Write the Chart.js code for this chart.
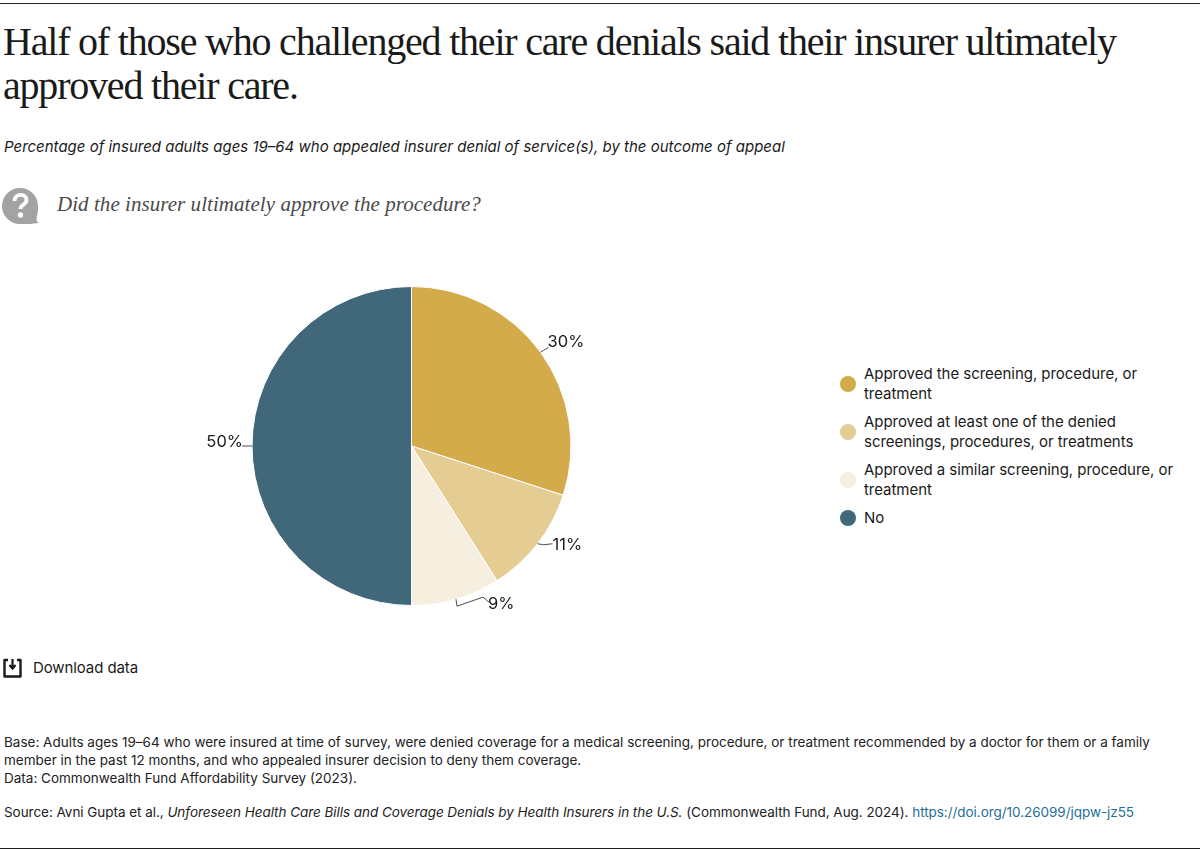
<!DOCTYPE html>
<html>
<head>
<meta charset="utf-8">
<title>Insurer appeal outcomes</title>
<script src="https://cdn.jsdelivr.net/npm/chart.js@4"></script>
<style>
  html, body { margin: 0; padding: 0; background: #fff; }
  body { width: 1200px; height: 850px; position: relative; overflow: hidden; font-family: Inter, sans-serif; color: #1a1a1a; }
  .rule { position: absolute; left: 0; width: 1200px; height: 1px; background: #222; }
  .abs { position: absolute; white-space: nowrap; }
  #title { left: 3px; top: 20px; font: 40px/44px "Liberation Serif", serif; letter-spacing: -1.2px; }
  #subtitle { left: 4px; top: 138px; font: italic 15px/18px Inter, sans-serif; letter-spacing: 0; }
  #question { left: 57px; top: 192px; font: italic 21px/24px "Liberation Serif", serif; color: #4a4a4a; letter-spacing: 0.05px; }
  #chartBox { position: absolute; left: 181px; top: 256px; width: 461px; height: 380px; }
  #legend { position: absolute; left: 840px; top: 364px; width: 345px; }
  .item { position: relative; padding-left: 24px; font-size: 15px; line-height: 20px; margin-bottom: 8px; letter-spacing: -0.04px; }
  .dot { position: absolute; left: 0; top: 50%; width: 16px; height: 16px; margin-top: -8px; border-radius: 50%; }
  #download { left: 33px; top: 659px; font-size: 15px; line-height: 18px; letter-spacing: -0.1px; }
  .note { left: 4px; font-size: 13.5px; line-height: 18px; color: #222; }
  a { color: #1f6f96; text-decoration: none; }
</style>
</head>
<body>
<div class="rule" style="top:3px"></div>
<div class="abs" id="title">Half of those who challenged their care denials said their insurer ultimately<br>approved their care.</div>
<div class="abs" id="subtitle">Percentage of insured adults ages 19–64 who appealed insurer denial of service(s), by the outcome of appeal</div>

<svg class="abs" style="left:2px;top:187px" width="38" height="38" viewBox="0 0 38 38">
  <path d="M18 1a18 18 0 1 0 0 36c7 0 13 0 19 -1c-2 -1 -3 -3 -2 -7c1 -3 1 -7 1 -10A18 18 0 0 0 18 1z" fill="#a3a3a3"/>
  <path d="M12.5 14c0 -8 12 -8 12 -1c0 5 -6 4 -6 9" fill="none" stroke="#fff" stroke-width="3.8"/>
  <circle cx="18.5" cy="28" r="2.7" fill="#fff"/>
</svg>
<div class="abs" id="question">Did the insurer ultimately approve the procedure?</div>

<div id="chartBox"><canvas id="pie"></canvas></div>
<div id="legend"></div>

<svg class="abs" style="left:3px;top:658px" width="20" height="20" viewBox="0 0 20 20">
  <path d="M5 2H1.5v16.500h16V2H14" fill="none" stroke="#1a1a1a" stroke-width="2.4" stroke-linejoin="round"/>
  <path d="M9.500 1v9M6.500 7l3 3.500 3 -3.500" fill="none" stroke="#1a1a1a" stroke-width="2.200"/>
</svg>
<div class="abs" id="download">Download data</div>

<div class="abs note" style="top:733px">Base: Adults ages 19–64 who were insured at time of survey, were denied coverage for a medical screening, procedure, or treatment recommended by a doctor for them or a family<br>member in the past 12 months, and who appealed insurer decision to deny them coverage.<br>Data: Commonwealth Fund Affordability Survey (2023).</div>
<div class="abs note" style="top:803px;letter-spacing:-0.045px">Source: Avni Gupta et al., <i>Unforeseen Health Care Bills and Coverage Denials by Health Insurers in the U.S.</i> (Commonwealth Fund, Aug. 2024). <a href="#">https://doi.org/10.26099/jqpw-jz55</a></div>
<div class="rule" style="top:848px"></div>

<script>
// 数据
const categories = [
  'Approved the screening, procedure, or treatment',
  'Approved at least one of the denied screenings, procedures, or treatments',
  'Approved a similar screening, procedure, or treatment',
  'No'
];
const shares = [30, 11, 9, 50];
const sliceColors = ['#d3ab4b', '#e5cc93', '#f6eedf', '#40687a'];

// legend
document.getElementById('legend').innerHTML = categories.map((name, i) => `
  <div class="item"><span class="dot" style="background:${sliceColors[i]}"></span>${name}</div>
`).join('');

// leader line offsets from the slice edge, then label anchor
const leaders = [
  { path: [[8, -5]], text: [7, -10], align: 'left' },
  { path: [[6, 1], [15, 0]], text: [15, 1], align: 'left' },
  { path: [[1, 7], [27, -2], [33, 3]], text: [32, 5], align: 'left' },
  { path: [[-10, 0]], text: [-9, -4], align: 'right' }
];

const leaderLabels = {
  id: 'leaderLabels',
  afterDatasetsDraw(chart) {
    const { ctx } = chart;
    chart.getDatasetMeta(0).data.forEach((arc, i) => {
      const mid = (arc.startAngle + arc.endAngle) / 2;
      const x = arc.x + Math.cos(mid) * arc.outerRadius;
      const y = arc.y + Math.sin(mid) * arc.outerRadius;
      const l = leaders[i];
      ctx.save();
      ctx.strokeStyle = '#222';
      ctx.lineWidth = 0.8;
      ctx.beginPath();
      ctx.moveTo(x, y);
      l.path.forEach(p => ctx.lineTo(x + p[0], y + p[1]));
      ctx.stroke();
      ctx.fillStyle = '#1a1a1a';
      ctx.font = '16.5px Inter, sans-serif';
      ctx.textAlign = l.align;
      ctx.textBaseline = 'middle';
      ctx.fillText(shares[i] + '%', x + l.text[0], y + l.text[1]);
      ctx.restore();
    });
  }
};

new Chart(document.getElementById('pie').getContext('2d'), {
  type: 'pie',
  data: {
    labels: categories,
    datasets: [{ data: shares, backgroundColor: sliceColors, borderColor: '#fff', borderWidth: 1 }]
  },
  options: {
    responsive: true,
    maintainAspectRatio: false,
    animation: false,
    layout: { padding: 30 },
    plugins: { legend: { display: false }, tooltip: { enabled: false } }
  },
  plugins: [leaderLabels]
});
</script>
</body>
</html>
